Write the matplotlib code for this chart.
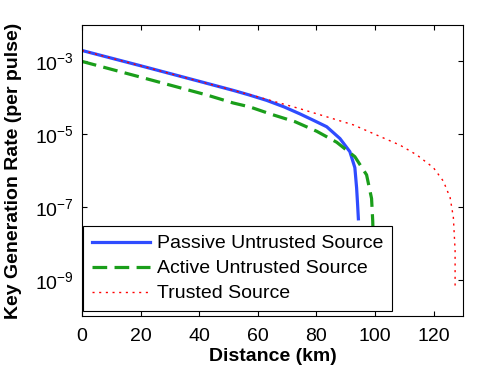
import numpy as np
import matplotlib
matplotlib.use('Agg')
import matplotlib.pyplot as plt
from matplotlib.ticker import FixedLocator, LogFormatterSciNotation, NullLocator

plt.rcParams['font.family'] = ['Liberation Sans', 'DejaVu Sans']
plt.rcParams['mathtext.fontset'] = 'custom'
plt.rcParams['mathtext.rm'] = 'Liberation Sans'
plt.rcParams['mathtext.it'] = 'Liberation Sans:italic'
plt.rcParams['mathtext.bf'] = 'Liberation Sans:bold'
plt.rcParams['font.size'] = 14

# 被动不可信源
passive_km = [0, 20, 40.3, 51.6, 57, 63, 69, 74.4, 79, 83.5, 88, 91.4, 93.1,
              93.7, 94.0, 94.3]
passive_rate = [2.0e-3, 7.6e-4, 2.8e-4, 1.6e-4, 1.2e-4, 8.5e-5, 5.6e-5,
                3.6e-5, 2.4e-5, 1.6e-5, 7.6e-6, 3.3e-6, 1.2e-6, 3.3e-7,
                1.3e-7, 4.7e-8]

# 主动不可信源
active_km = [0, 20, 42.5, 51.6, 57.3, 64.7, 72.7, 80.1, 86.9, 93.1, 97.1,
             98.8, 99.2, 99.5]
active_rate = [1.0e-3, 3.7e-4, 1.2e-4, 7.2e-5, 5.6e-5, 3.5e-5, 2.2e-5,
               1.2e-5, 6.0e-6, 2.4e-6, 7.6e-7, 1.7e-7, 4.0e-8, 5e-9]

# 可信源
trusted_km = [0, 20, 40.3, 60.2, 74.4, 83.5, 92.6, 100.5, 108.5, 114.2,
              119.9, 123.3, 125.6, 126.7, 127.3, 127.3]
trusted_rate = [2.0e-3, 7.6e-4, 2.8e-4, 1.05e-4, 5.0e-5, 3.0e-5, 1.8e-5,
                9.5e-6, 5.0e-6, 2.7e-6, 1.2e-6, 5.1e-7, 1.8e-7, 5.2e-8,
                6.5e-9, 6.5e-10]

labels = ['Passive Untrusted Source', 'Active Untrusted Source', 'Trusted Source']
y_ticks = [1e-9, 1e-7, 1e-5, 1e-3]
x_ticks = [0, 20, 40, 60, 80, 100, 120]

fig = plt.figure(figsize=(4.91, 3.74), dpi=100)
ax = fig.add_axes([0.167, 0.155, 0.776, 0.778])

ax.semilogy(passive_km, passive_rate, color='#2f4cff', lw=2.3, label=labels[0])
ax.semilogy(active_km, active_rate, color='#1a9e1a', lw=2.3, dashes=(4.6, 2.3),
            label=labels[1])
ax.semilogy(trusted_km, trusted_rate, color='#ff0000', lw=1.0, dashes=(1.5, 3.3),
            label=labels[2])

ax.set_xlim(0, 130)
ax.set_ylim(1e-10, 1e-2)
ax.xaxis.set_major_locator(FixedLocator(x_ticks))
ax.yaxis.set_major_locator(FixedLocator(y_ticks))
ax.yaxis.set_major_formatter(LogFormatterSciNotation())
ax.yaxis.set_minor_locator(NullLocator())
ax.tick_params(direction='in', length=3.5, width=0.8, top=True, right=True)
ax.tick_params(axis='x', pad=8.5)
ax.tick_params(axis='y', pad=6)

ax.set_xlabel('Distance (km)', fontweight='bold', labelpad=2)
ax.set_ylabel('Key Generation Rate (per pulse)', fontweight='bold', labelpad=9)

leg = ax.legend(loc='lower left', bbox_to_anchor=(0.003, 0.017), borderaxespad=0,
                fancybox=False, edgecolor='black', framealpha=1, fontsize=14,
                handlelength=3.0, labelspacing=0.38, borderpad=0.45,
                handletextpad=0.35)
leg.get_frame().set_linewidth(0.8)

fig.savefig('out.png', dpi=100)
